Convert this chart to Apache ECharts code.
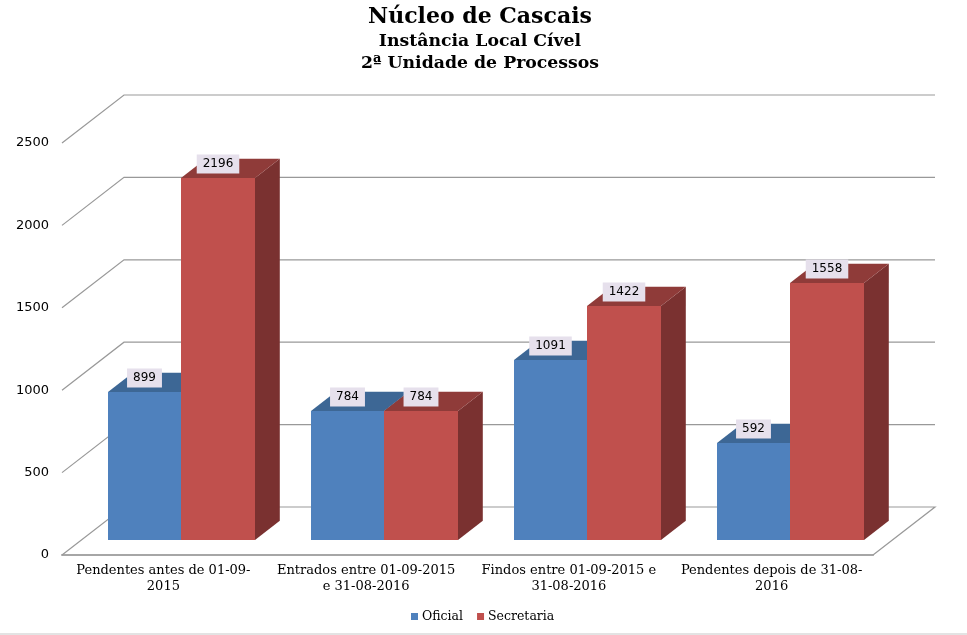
<!DOCTYPE html>
<html>
<head>
<meta charset="utf-8">
<style>html,body{margin:0;padding:0;background:#fff}#c{width:967px;height:635px}</style>
<script src="https://cdn.jsdelivr.net/npm/echarts@6/dist/echarts.min.js"></script>
</head>
<body>
<div id="c"></div>
<script>
const categories = [
  'Pendentes antes de 01-09-\n2015',
  'Entrados entre 01-09-2015\ne 31-08-2016',
  'Findos entre 01-09-2015 e\n31-08-2016',
  'Pendentes depois de 31-08-\n2016'
];
const oficial = [899, 784, 1091, 592];
const secretaria = [2196, 784, 1422, 1558];
const yTicks = [0, 500, 1000, 1500, 2000, 2500];

const DEPTH_X = 62, DEPTH_Y = -48;
const BAR_FRONT = 0.3, BAR_DEPTH = 0.4, BAR_W = 0.3625;
const SERIF = '"DejaVu Serif", serif', SANS = '"DejaVu Sans", sans-serif';

function wallItem(params, api) {
  const v = api.value(0);
  const cs = params.coordSys;
  const y = api.coord([0, v])[1];
  const x0 = cs.x, x1 = cs.x + cs.width;
  const pts = [[x0, y], [x0 + DEPTH_X, y + DEPTH_Y], [x1 + DEPTH_X, y + DEPTH_Y]];
  if (v === 0) pts.push([x1, y]);
  return { type: 'polyline', shape: { points: pts }, style: { fill: null, stroke: '#999999', lineWidth: 1.2 } };
}

function barItem(side, front, topC, sideC) {
  return function (params, api) {
    const cat = api.value(0), val = api.value(1);
    const band = api.size([1, 0])[0];
    const w = side === 0 ? Math.floor(band * BAR_W) : Math.ceil(band * BAR_W);
    const c0 = api.coord([cat, 0]), c1 = api.coord([cat, val]);
    const ox = DEPTH_X * BAR_FRONT, oy = DEPTH_Y * BAR_FRONT;
    const dx = DEPTH_X * BAR_DEPTH, dy = DEPTH_Y * BAR_DEPTH;
    const xl = Math.floor(c0[0] + ox) + (side === 0 ? -w : 0), xr = xl + w;
    const yb = Math.floor(c0[1] + oy), yt = Math.floor(c1[1] + oy);
    return {
      type: 'group',
      children: [
        { type: 'polygon', shape: { points: [[xr, yb], [xr + dx, yb + dy], [xr + dx, yt + dy], [xr, yt]] }, style: { fill: sideC } },
        { type: 'polygon', shape: { points: [[xl, yt], [xr, yt], [xr + dx, yt + dy], [xl + dx, yt + dy]] }, style: { fill: topC } },
        { type: 'rect', shape: { x: xl, y: yt, width: w, height: yb - yt }, style: { fill: front } },
        { type: 'text', z2: 50, style: {
            x: (xl + xr) / 2, y: yt - 14, text: String(val), align: 'center', verticalAlign: 'middle',
            font: '12px ' + SANS, fill: '#000', backgroundColor: '#E6E0EC', padding: [4, 6, 3, 6]
        } }
      ]
    };
  };
}

const pairs = a => a.map((v, i) => [i, v]);
const titleBase = { left: 480, textAlign: 'center', padding: 0 };

const chart = echarts.init(document.getElementById('c'), null, { renderer: 'canvas' });
chart.setOption({
  animation: false,
  backgroundColor: '#fff',
  title: [
    Object.assign({ text: 'Núcleo de Cascais', top: 6, textStyle: { fontFamily: SERIF, fontWeight: 'bold', fontSize: 22, color: '#000' } }, titleBase),
    Object.assign({ text: 'Instância Local Cível', top: 33, textStyle: { fontFamily: SERIF, fontWeight: 'bold', fontSize: 17.3, color: '#000' } }, titleBase),
    Object.assign({ text: '2ª Unidade de Processos', top: 55, textStyle: { fontFamily: SERIF, fontWeight: 'bold', fontSize: 17.3, color: '#000' } }, titleBase)
  ],
  legend: {
    data: ['Oficial', 'Secretaria'],
    left: 411, top: 610,
    padding: 0,
    itemWidth: 7, itemHeight: 7, itemGap: 14,
    icon: 'rect',
    textStyle: { fontFamily: SERIF, fontSize: 12.5, color: '#000', padding: [0, 0, 0, -1] }
  },
  grid: { left: 62, right: 94, top: 143, bottom: 80, outerBoundsMode: 'none' },
  xAxis: {
    type: 'category',
    data: categories,
    axisTick: { show: false },
    axisLine: { show: true, lineStyle: { color: '#a6a6a6', width: 2 } },
    axisLabel: { fontFamily: SERIF, fontSize: 13, color: '#000', margin: 7, lineHeight: 16.5, interval: 0 },
    splitLine: { show: false }
  },
  yAxis: {
    type: 'value',
    min: 0, max: 2500, interval: 500,
    axisLine: { show: false },
    axisTick: { show: false },
    splitLine: { show: false },
    axisLabel: { fontFamily: SANS, fontSize: 13, color: '#000', margin: 13, padding: [2, 0, 0, 0], formatter: v => String(v) }
  },
  series: [
    { type: 'custom', name: 'walls', data: yTicks.map(v => [v]), renderItem: wallItem, z: 1, silent: true,
      encode: { y: 0 } },
    { type: 'custom', name: 'Oficial', data: pairs(oficial), encode: { x: 0, y: 1 }, z: 2,
      itemStyle: { color: '#4F81BD' }, renderItem: barItem(0, '#4F81BD', '#3D6795', '#376090') },
    { type: 'custom', name: 'Secretaria', data: pairs(secretaria), encode: { x: 0, y: 1 }, z: 3,
      itemStyle: { color: '#C0504D' }, renderItem: barItem(1, '#C0504D', '#8F3B39', '#7A3130') }
  ],
  graphic: [{
    type: 'rect', silent: true, left: 0, top: 633, shape: { width: 967, height: 2 }, style: { fill: '#E3E3E3' }
  }]
});
</script>
</body>
</html>
